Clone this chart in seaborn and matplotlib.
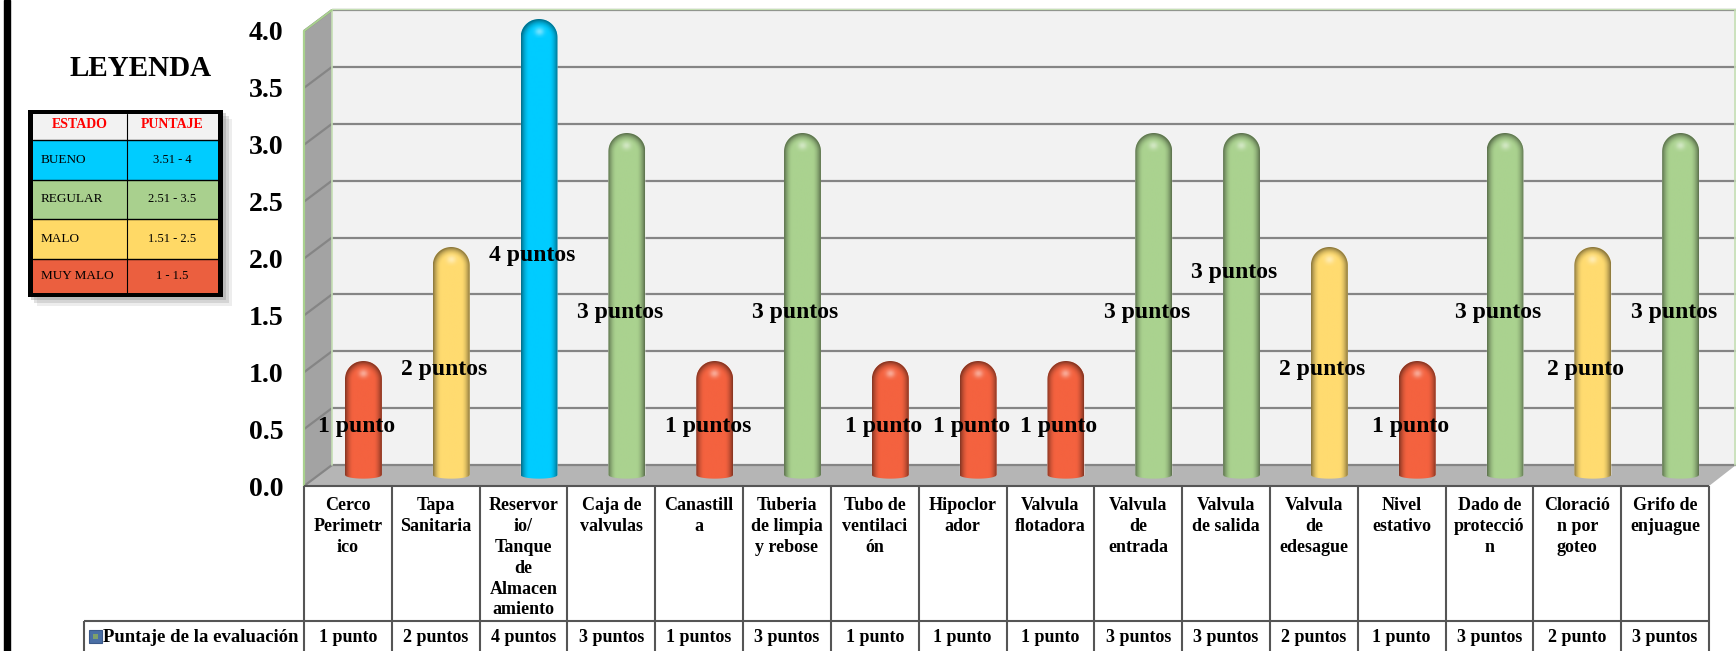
import numpy as np
import pandas as pd
import matplotlib
matplotlib.use('Agg')
import matplotlib.pyplot as plt
import seaborn as sns
from matplotlib.path import Path
from matplotlib.colors import to_rgb
from matplotlib.patches import Polygon, Rectangle

# Data
componentes = ['Cerco\nPerimetr\nico', 'Tapa\nSanitaria', 'Reservor\nio/\nTanque\nde\nAlmacen\namiento',
               'Caja de\nvalvulas', 'Canastill\na', 'Tuberia\nde limpia\ny rebose', 'Tubo de\nventilaci\nón',
               'Hipoclor\nador', 'Valvula\nflotadora', 'Valvula\nde\nentrada', 'Valvula\nde salida',
               'Valvula\nde\nedesague', 'Nivel\nestativo', 'Dado de\nprotecció\nn', 'Cloració\nn por\ngoteo',
               'Grifo de\nenjuague']
puntaje = [1, 2, 4, 3, 1, 3, 1, 1, 1, 3, 3, 2, 1, 3, 2, 3]
etiquetas = ['1 punto', '2 puntos', '4 puntos', '3 puntos', '1 puntos', '3 puntos', '1 punto', '1 punto',
             '1 punto', '3 puntos', '3 puntos', '2 puntos', '1 punto', '3 puntos', '2 punto', '3 puntos']
estado = ['MUY MALO', 'MALO', 'BUENO', 'REGULAR', 'MUY MALO', 'REGULAR', 'MUY MALO', 'MUY MALO',
          'MUY MALO', 'REGULAR', 'REGULAR', 'MALO', 'MUY MALO', 'REGULAR', 'MALO', 'REGULAR']
leyenda_estado = ['BUENO', 'REGULAR', 'MALO', 'MUY MALO']
leyenda_puntaje = ['3.51 - 4', '2.51 - 3.5', '1.51 - 2.5', '1 - 1.5']
yticks = [0.0, 0.5, 1.0, 1.5, 2.0, 2.5, 3.0, 3.5, 4.0]

colores_barra = {'BUENO': '#00CCFF', 'REGULAR': '#AAD28F', 'MALO': '#FFDB70', 'MUY MALO': '#F4623F'}
colores_tabla = ['#00CCFF', '#A9D08E', '#FFD966', '#EB5F3F']

df = pd.DataFrame({'componente': componentes, 'puntaje': puntaje, 'estado': estado})

sns.set_theme(style='white')
plt.rcParams['font.family'] = ['Liberation Serif', 'DejaVu Serif']

W, H = 1736, 651
fig = plt.figure(figsize=(W / 100, H / 100), dpi=100, facecolor='white')


def axes_px(x0, y0, x1, y1):
    return fig.add_axes([x0 / W, 1 - y1 / H, (x1 - x0) / W, (y1 - y0) / H])


# Background layer in pixel coordinates: walls, floor, both tables
bg = axes_px(0, 0, W, H)
bg.set_xlim(0, W)
bg.set_ylim(H, 0)
bg.axis('off')

FX0, FX1, FY0 = 304, 1709, 486   # front edge of the floor
BX0, BY0, BY4 = 332, 465, 10     # back wall
paso = (BY0 - BY4) / 8
dx, dy = BX0 - FX0, FY0 - BY0
col_w = (FX1 - FX0) / len(componentes)

bg.add_patch(Rectangle((4, 0), 6, H, color='black'))
bg.add_patch(Rectangle((BX0, BY4), W - BX0, BY0 - BY4, color='#F2F2F2', lw=0))
bg.add_patch(Polygon([(FX0, BY4 + dy), (BX0, BY4), (BX0, BY0), (FX0, FY0)], color='#A3A3A3', lw=0))
bg.add_patch(Polygon([(FX0, FY0), (BX0, BY0), (W, BY0), (FX1, FY0)], color='#B5B5B5', lw=0))
for k in range(9):
    y = BY4 + k * paso
    bg.plot([BX0, W], [y, y], color='#858585', lw=1.6, solid_capstyle='butt')
    bg.plot([FX0, BX0], [y + dy, y], color='#858585', lw=1.6, solid_capstyle='butt')
bg.plot([FX0, FX0], [BY4 + dy, FY0], color='#A9D18E', lw=1.6)
bg.plot([BX0, BX0], [BY4, BY0], color='#C5DFB4', lw=1.2)
bg.plot([W - 1, W - 1], [BY4, BY0], color='#C5DFB4', lw=1.2)
bg.plot([FX0, BX0], [BY4 + dy, BY4], color='#A9D18E', lw=1.4)
bg.plot([BX0, W], [BY4 - 1, BY4 - 1], color='#C5DFB4', lw=1)

# Data table under the chart
ROW = 621
linea = dict(color='#555555', lw=1.5, solid_capstyle='butt')
bg.plot([FX0, FX1], [FY0, FY0], **linea)
bg.plot([84, FX1], [ROW, ROW], **linea)
bg.plot([84, 84], [ROW, H], **linea)
for i in range(len(componentes) + 1):
    x = FX0 + i * col_w
    bg.plot([x, x], [FY0, H], **linea)
for i, (c, e) in enumerate(zip(componentes, etiquetas)):
    xc = FX0 + (i + 0.5) * col_w
    bg.text(xc, 497, c, ha='center', va='top', fontsize=13, fontweight='bold', linespacing=1.3, color='black')
    bg.text(xc, 637, e, ha='center', va='center', fontsize=13, fontweight='bold', color='black')
bg.add_patch(Rectangle((89, 630), 13, 13, facecolor='#4A6FA5', edgecolor='#3B5A8A', lw=0.8))
bg.add_patch(Rectangle((93, 634), 5, 5, facecolor='#7FA06A', lw=0))
bg.text(103, 637, 'Puntaje de la evaluación', ha='left', va='center', fontsize=13.5, fontweight='bold', color='black')

# Legend
bg.text(141, 68, 'LEYENDA', ha='center', va='center', fontsize=21, fontweight='bold', color='black')
for g, alfa in zip([9, 6, 3], [0.15, 0.25, 0.35]):
    bg.add_patch(Rectangle((28 + g, 110 + g), 195, 187, color='#8A8A8A', lw=0, alpha=alfa))
bg.add_patch(Rectangle((28, 110), 195, 187, color='black', lw=0))
filas = [114, 140, 180, 219, 259, 293]
LX0, LXM, LX1 = 33, 127, 218
bg.add_patch(Rectangle((LX0, filas[0]), LX1 - LX0, filas[1] - filas[0], color='#F2F2F2', lw=0))
bg.text((LX0 + LXM) / 2, 124, 'ESTADO', ha='center', va='center', fontsize=10, fontweight='bold', color='#FF0000')
bg.text((LXM + LX1) / 2, 124, 'PUNTAJE', ha='center', va='center', fontsize=10, fontweight='bold', color='#FF0000')
for i in range(4):
    bg.add_patch(Rectangle((LX0, filas[i + 1]), LX1 - LX0, filas[i + 2] - filas[i + 1], color=colores_tabla[i], lw=0))
    ym = (filas[i + 1] + filas[i + 2]) / 2
    bg.text(41, ym, leyenda_estado[i], ha='left', va='center', fontsize=9.5, color='black')
    bg.text((LXM + LX1) / 2, ym, leyenda_puntaje[i], ha='center', va='center', fontsize=9, color='black')
    bg.plot([LX0, LX1], [filas[i + 1], filas[i + 1]], color='black', lw=1)
bg.plot([LXM, LXM], [filas[0], filas[-1]], color='black', lw=0.8)

# Value axis, on the front plane of the box
eje = axes_px(FX0, BY4 + dy, FX1, FY0)
eje.patch.set_visible(False)
eje.set_ylim(0, 4)
eje.set_yticks(yticks)
eje.set_yticklabels([f'{v:.1f}' for v in yticks], fontsize=20, fontweight='bold', color='black')
eje.tick_params(axis='y', length=0, pad=15)
eje.set_xticks([])
sns.despine(ax=eje, left=True, bottom=True)

# Bars, on a plane half way into the box
unidad = 114
base = 475
ax = axes_px(FX0 + 15.5, base - 4.05 * unidad, FX1 + 15.5, base + 0.1 * unidad)
sns.barplot(data=df, x='componente', y='puntaje', hue='estado', palette=colores_barra,
            dodge=False, width=0.42, legend=False, saturation=1, ax=ax)
ax.patch.set_visible(False)
ax.axis('off')

radio = 0.42 / 2 * col_w / unidad   # round top, as a fraction of the value axis
for p in list(ax.patches):
    v = p.get_height()
    if not v:
        continue
    x0, w = p.get_x(), p.get_width()
    cx = x0 + w / 2
    ang = np.linspace(np.pi, 0, 40)
    arriba = np.c_[cx + w / 2 * np.cos(ang), v - radio + radio * np.sin(ang)]
    vuelta = ang[::-1]
    abajo = np.c_[cx + w / 2 * np.cos(vuelta), -0.032 * np.sin(vuelta)]
    contorno = np.vstack([arriba, abajo, arriba[:1]])
    clip = Path(contorno)
    p.set_clip_path(clip, ax.transData)

    # cylinder shading
    ny, nx = int((v + 0.04) * unidad), 60
    xs = np.linspace(-1, 1, nx)
    ys = np.linspace(-0.04, v, ny)
    gx, gy = np.meshgrid(xs, ys)
    s = np.clip((gy - (v - radio)) / radio, 0, None)
    r = np.sqrt(gx ** 2 + s ** 2)
    col = np.array(to_rgb(p.get_facecolor()[:3]))
    luz = np.clip(1.0 - 0.45 * np.clip((r - 0.55) / 0.45, 0, 1) ** 1.8, 0, 1)
    img = np.clip(col[None, None, :] * luz[..., None], 0, 1)
    brillo = np.exp(-((gx / 0.25) ** 2 + ((s - 0.35) / 0.22) ** 2)) * (s > 0)
    img = img + (1 - img) * 0.45 * brillo[..., None]
    im = ax.imshow(img, extent=(x0, x0 + w, -0.04, v), origin='lower', aspect='auto',
                   interpolation='bilinear', zorder=3)
    im.set_clip_path(clip, ax.transData)

ax.set_xlim(-0.5, len(componentes) - 0.5)
ax.set_ylim(-0.1, 4.05)

# Data labels, the one on Valvula de salida sits higher
for i, (v, e) in enumerate(zip(puntaje, etiquetas)):
    extra = 29 if i == 10 else 0
    ax.annotate(e, xy=(i, v / 2), xytext=(-5, -6 + extra), textcoords='offset points', ha='center', va='center',
                fontsize=17, fontweight='bold', color='black', zorder=5, annotation_clip=False)

fig.savefig('out.png', dpi=100)
